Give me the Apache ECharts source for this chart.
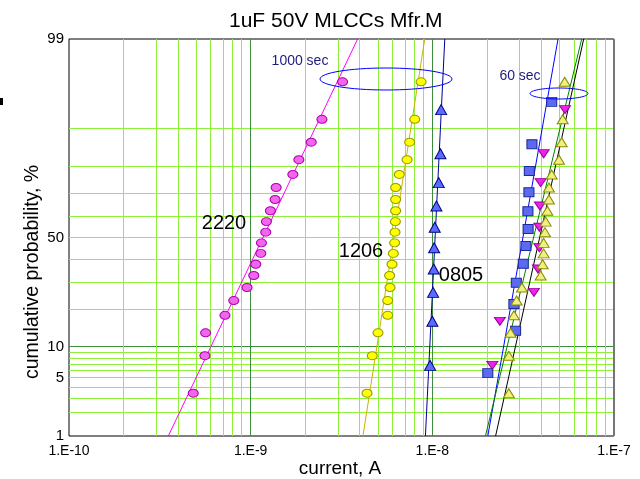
<!DOCTYPE html>
<html><head><meta charset="utf-8">
<script src="https://cdn.jsdelivr.net/npm/echarts@6/dist/echarts.min.js"></script>
<style>html,body{margin:0;padding:0;background:#fff}#c{width:640px;height:479px}</style>
</head><body><div id="c"></div>
<script>
// ---- data (cumulative probability in %, current in A) ----
const probs20 = [3.4, 8.3, 13.2, 18.1, 23.0, 27.9, 32.8, 37.7, 42.6, 47.5, 52.5, 57.4, 62.3, 67.2, 72.1, 77.0, 81.9, 86.8, 91.7, 96.6];
const probs10 = [6.7, 16.3, 26.0, 35.6, 45.2, 54.8, 64.4, 74.0, 83.7, 93.3];
const probs12 = [5.6, 13.7, 21.8, 29.8, 37.9, 46.0, 54.0, 62.1, 70.2, 78.2, 86.3, 94.4];

const cur2220 = [4.83e-10, 5.60e-10, 5.65e-10, 7.22e-10, 8.07e-10, 9.55e-10, 1.04e-9, 1.067e-9, 1.137e-9, 1.146e-9, 1.211e-9, 1.221e-9, 1.284e-9, 1.363e-9, 1.381e-9, 1.707e-9, 1.842e-9, 2.154e-9, 2.468e-9, 3.205e-9];
const cur1206 = [4.37e-9, 4.67e-9, 5.02e-9, 5.68e-9, 5.68e-9, 5.85e-9, 5.82e-9, 6.00e-9, 6.10e-9, 6.20e-9, 6.23e-9, 6.26e-9, 6.28e-9, 6.28e-9, 6.28e-9, 6.58e-9, 7.26e-9, 7.50e-9, 8.00e-9, 8.67e-9];
const cur0805 = [9.72e-9, 1.0006e-8, 1.010e-8, 1.018e-8, 1.023e-8, 1.031e-8, 1.053e-8, 1.085e-8, 1.108e-8, 1.118e-8];
const curSq60 = [2.02e-8, 2.873e-8, 2.812e-8, 2.899e-8, 3.168e-8, 3.275e-8, 3.367e-8, 3.359e-8, 3.402e-8, 3.419e-8, 3.534e-8, 4.539e-8];
const curDn60 = [2.138e-8, 2.354e-8, 3.625e-8, 3.814e-8, 3.882e-8, 3.882e-8, 3.912e-8, 3.946e-8, 4.100e-8, 5.374e-8];
const curUp60 = [2.638e-8, 2.638e-8, 2.696e-8, 2.812e-8, 2.910e-8, 3.113e-8, 3.946e-8, 4.048e-8, 4.100e-8, 4.100e-8, 4.169e-8, 4.206e-8, 4.297e-8, 4.385e-8, 4.385e-8, 4.539e-8, 4.980e-8, 5.154e-8, 5.220e-8, 5.353e-8];

// fitted lines: current at 1 % and at 99 %
const fitProbs = [1, 99];
const fit2220 = [3.52e-10, 3.88e-9];
const fit1206 = [4.15e-9, 9.08e-9];
const fit0805 = [9.16e-9, 1.171e-8];
const fitBlue60 = [2.02e-8, 4.92e-8];
const fitGreen60 = [1.96e-8, 6.64e-8];
const fitBlack60 = [2.23e-8, 6.81e-8];

// axes
const yTickLabels = [1, 5, 10, 50, 99];
const yGridProbs = [2, 3, 4, 5, 6, 7, 8, 9, 10, 20, 30, 40, 50, 60, 70, 80, 90];
const xTickLabels = ['1.E-10', '1.E-9', '1.E-8', '1.E-7'];
const xDecadeExps = [-10, -9, -8];
const xMultipliers = [2, 3, 4, 5, 6, 7, 8, 9];

// inverse standard normal CDF (probability-paper scale)
function probit(p){
  const a=[-3.969683028665376e+01,2.209460984245205e+02,-2.759285104469687e+02,1.383577518672690e+02,-3.066479806614716e+01,2.506628277459239e+00];
  const b=[-5.447609879822406e+01,1.615858368580409e+02,-1.556989798598866e+02,6.680131188771972e+01,-1.328068155288572e+01];
  const c=[-7.784894002430293e-03,-3.223964580411365e-01,-2.400758277161838e+00,-2.549732539343734e+00,4.374664141464968e+00,2.938163982698783e+00];
  const d=[7.784695709041462e-03,3.224671290700398e-01,2.445134137142996e+00,3.754408661907416e+00];
  const pl=0.02425, ph=1-pl; let q,r;
  if(p<pl){q=Math.sqrt(-2*Math.log(p));return (((((c[0]*q+c[1])*q+c[2])*q+c[3])*q+c[4])*q+c[5])/((((d[0]*q+d[1])*q+d[2])*q+d[3])*q+1);}
  if(p<=ph){q=p-0.5;r=q*q;return (((((a[0]*r+a[1])*r+a[2])*r+a[3])*r+a[4])*r+a[5])*q/(((((b[0]*r+b[1])*r+b[2])*r+b[3])*r+b[4])*r+1);}
  q=Math.sqrt(-2*Math.log(1-p));return -(((((c[0]*q+c[1])*q+c[2])*q+c[3])*q+c[4])*q+c[5])/((((d[0]*q+d[1])*q+d[2])*q+d[3])*q+1);
}
const z = pct => probit(pct/100);
const pts = (xs, ps) => xs.map((x,i)=>[x, z(ps[i])]);

const LIME = '#8ef03a', DARK = '#3c8c3c';
const gridLines = [];
yGridProbs.forEach(p => gridLines.push({yAxis: z(p), lineStyle:{color: p===10?DARK:LIME, width:1, type:'solid'}}));
xDecadeExps.forEach((e, k) => {
  if (k>0) gridLines.push({xAxis: e, lineStyle:{color: DARK, width:1, type:'solid'}});
  xMultipliers.forEach(m => gridLines.push({xAxis: e + Math.log10(m), lineStyle:{color: LIME, width:1, type:'solid'}}));
});
gridLines.push({xAxis: -7, lineStyle:{color:'#777', width:2, type:'solid'}});

const FONT = 'Liberation Sans, Arial, sans-serif';
function scatter(name, xs, ps, symbol, size, fill, border, rot){
  return {name, type:'scatter', z:4, data: pts(xs, ps), symbol, symbolSize:size, symbolRotate: rot||0,
    itemStyle:{color:fill, borderColor:border, borderWidth:1, opacity:1}};
}
function fit(name, xs, color){
  return {name, type:'line', z:3, data: pts(xs, fitProbs), showSymbol:false, symbol:'none',
    lineStyle:{color, width:1}};
}

const chart = echarts.init(document.getElementById('c'), null, {renderer:'canvas'});
chart.setOption({
  animation:false,
  backgroundColor:'#fff',
  title:{text:'1uF 50V MLCCs Mfr.M', left:224, top:6,
    textStyle:{fontFamily:FONT, fontSize:21, fontWeight:'normal', color:'#000'}},
  grid:{left:69, right:26, top:39, bottom:43, show:true, borderColor:'#000', borderWidth:1, backgroundColor:'#fff'},
  xAxis:[{type:'log', logBase:10, min:1e-10, max:1e-7,
    axisLine:{show:false}, axisTick:{show:false}, splitLine:{show:false}, minorSplitLine:{show:false},
    axisLabel:{margin:8, fontFamily:FONT, fontSize:14, color:'#000',
      formatter: v => xTickLabels[Math.round(Math.log10(v))+10] || ''}},
    {type:'value', min:-10, max:-7, show:false, splitLine:{show:false}}],
  yAxis:{type:'value', min:z(1), max:z(99),
    axisLine:{show:false}, axisTick:{show:false}, splitLine:{show:false},
    axisLabel:{margin:5, fontFamily:FONT, fontSize:15, color:'#000', showMinLabel:true, showMaxLabel:true,
      customValues: yTickLabels.map(z),
      formatter: v => { for (const p of yTickLabels) if (Math.abs(z(p)-v)<1e-6) return String(p); return ''; }}},
  series:[
    {name:'grid', type:'line', xAxisIndex:1, data:[], z:1, silent:true,
      markLine:{z:1, zlevel:0, silent:true, symbol:['none','none'], label:{show:false}, animation:false, data:gridLines}},
    fit('2220 fit', fit2220, '#ff00ff'),
    fit('1206 fit', fit1206, '#c8b400'),
    fit('0805 fit', fit0805, '#000099'),
    fit('60 sec blue fit', fitBlue60, '#0000ff'),
    fit('60 sec green fit', fitGreen60, '#008000'),
    fit('60 sec black fit', fitBlack60, '#000000'),
    scatter('2220', cur2220, probs20, 'circle', [10,8], '#f266ee', '#b000b0'),
    scatter('1206', cur1206, probs20, 'circle', [10,8], '#ffff00', '#9a9a00'),
    scatter('0805', cur0805, probs10, 'triangle', [11,10], '#5a6cff', '#000080'),
    scatter('60 sec squares', curSq60, probs12, 'rect', [10,9], '#5b6af0', '#1a2a9a'),
    scatter('60 sec down', curDn60, probs10, 'triangle', [11,8], '#ee22ee', '#9a009a', 180),
    scatter('60 sec up', curUp60, probs20, 'triangle', [11,9], '#f0f080', '#8a8a00')
  ],
  graphic:[
    {type:'text', x:33, y:272, rotation:Math.PI/2, z:10,
      style:{text:'cumulative probability, %', fontFamily:FONT, fontSize:19.5, fill:'#000', align:'center', verticalAlign:'middle'}},
    {type:'text', x:340, y:469, z:10,
      style:{text:'current, A', fontFamily:FONT, fontSize:19, fill:'#000', align:'center', verticalAlign:'middle'}},
    {type:'text', x:224, y:223, z:10, style:{text:'2220', fontFamily:FONT, fontSize:20, fill:'#000', align:'center', verticalAlign:'middle'}},
    {type:'text', x:361, y:251, z:10, style:{text:'1206', fontFamily:FONT, fontSize:20, fill:'#000', align:'center', verticalAlign:'middle'}},
    {type:'text', x:461, y:275, z:10, style:{text:'0805', fontFamily:FONT, fontSize:20, fill:'#000', align:'center', verticalAlign:'middle'}},
    {type:'text', x:300, y:61, z:10, style:{text:'1000 sec', fontFamily:FONT, fontSize:14, fill:'#1c1c80', align:'center', verticalAlign:'middle'}},
    {type:'text', x:520, y:76, z:10, style:{text:'60 sec', fontFamily:FONT, fontSize:14, fill:'#1c1c80', align:'center', verticalAlign:'middle'}},
    {type:'ellipse', z:10, shape:{cx:386, cy:79, rx:66, ry:11}, style:{fill:null, stroke:'#0000ff', lineWidth:1}},
    {type:'ellipse', z:10, shape:{cx:559, cy:93.5, rx:29, ry:5.5}, style:{fill:null, stroke:'#0000ff', lineWidth:1}},
    {type:'rect', z:10, shape:{x:0, y:98, width:3, height:7}, style:{fill:'#000'}}
  ]
});
</script></body></html>
